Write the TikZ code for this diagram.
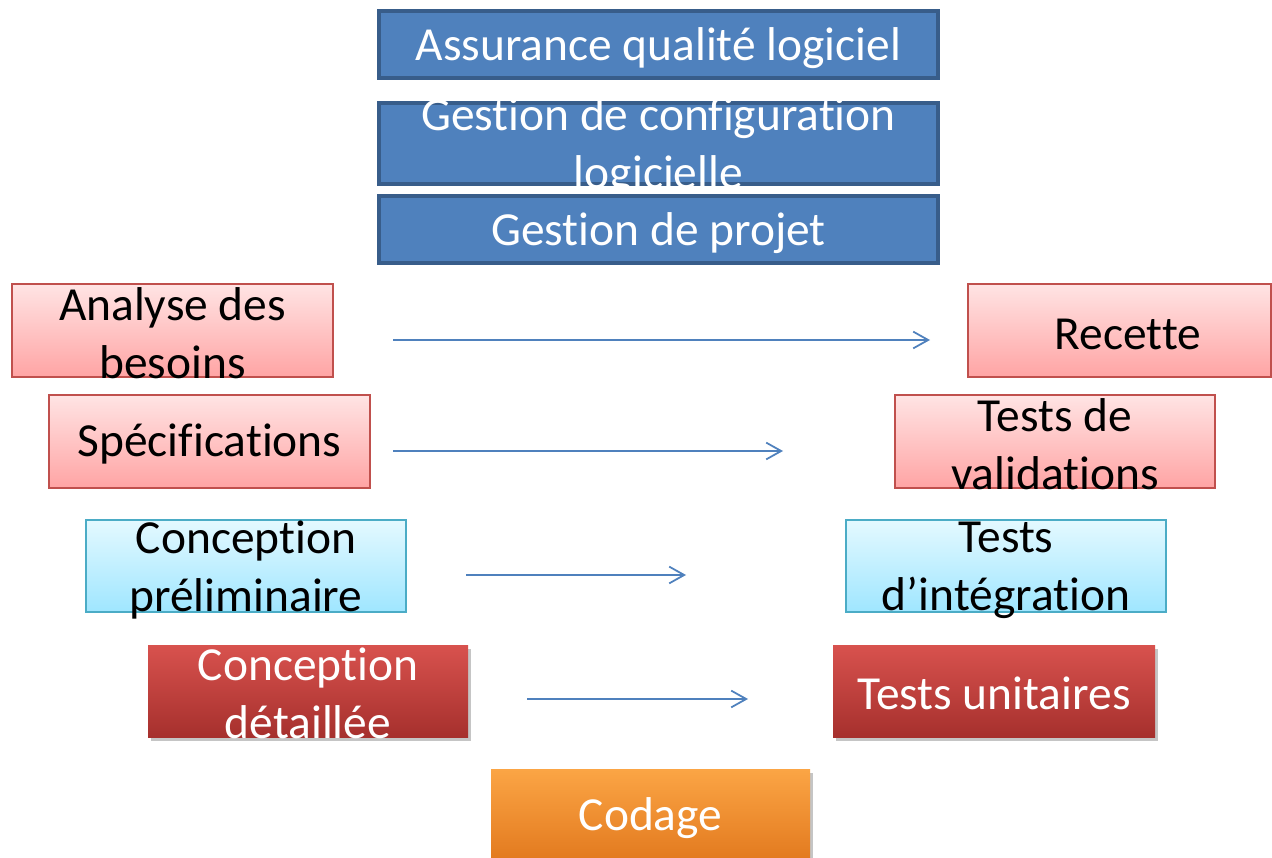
\documentclass[tikz,border=0pt]{standalone}
\usepackage{fontspec}
\setmainfont{Carlito}[Ligatures=NoCommon]
\usetikzlibrary{arrows.meta,shadows}
\definecolor{bluefill}{HTML}{4F81BD}
\definecolor{blueedge}{HTML}{385D8A}
\definecolor{pinktop}{HTML}{FFE4E4}
\definecolor{pinkbot}{HTML}{FFA4A4}
\definecolor{pinkedge}{HTML}{C0504D}
\definecolor{cyantop}{HTML}{E4F9FF}
\definecolor{cyanbot}{HTML}{9FE6FF}
\definecolor{cyanedge}{HTML}{4BACC6}
\definecolor{redtop}{HTML}{D8524E}
\definecolor{redbot}{HTML}{A6302D}
\definecolor{orangetop}{HTML}{FBA545}
\definecolor{orangebot}{HTML}{E2791E}
\definecolor{arrowblue}{HTML}{4F81BD}
\tikzset{
  bluebox/.style={draw=blueedge, fill=bluefill, line width=2.1pt, rectangle, inner sep=0pt},
  pinkbox/.style={draw=pinkedge, top color=pinktop, bottom color=pinkbot, line width=1.1pt, rectangle, inner sep=0pt},
  cyanbox/.style={draw=cyanedge, top color=cyantop, bottom color=cyanbot, line width=0.9pt, rectangle, inner sep=0pt},
  redbox/.style={top color=redtop, bottom color=redbot, rectangle, inner sep=0pt,
     drop shadow={opacity=0.45, shadow xshift=1.5pt, shadow yshift=-2pt}},
  orangebox/.style={top color=orangetop, bottom color=orangebot, rectangle, inner sep=0pt,
     drop shadow={opacity=0.45, shadow xshift=1.5pt, shadow yshift=-2pt}},
  wtxt/.style={text=white, align=center, font=\fontsize{27}{33}\selectfont, inner sep=0pt},
  btxt/.style={text=black, align=center, font=\fontsize{27}{33}\selectfont, inner sep=0pt},
  flow/.style={draw=arrowblue, line width=1.0pt, -{Straight Barb[length=8.5pt,width=9.5pt,line width=1.0pt]}}
}
\begin{document}
\begin{tikzpicture}[x=0.02cm,y=-0.02cm]
\clip (0,0) rectangle (1272,858);
\fill[white] (0,0) rectangle (1272,858);
% top blue bars
\path[bluebox] (379,11) rectangle (938,78) node[midway] (aql) {};
\node[wtxt] (aqlt) at (658.5,48) {Assurance qualité logiciel};
\path[bluebox] (379,103) rectangle (938,184) node[midway] (gcl) {};
\node[wtxt] (gclt) at (658.5,147) {Gestion de configuration\\logicielle};
\path[bluebox] (379,196) rectangle (938,263) node[midway] (gp) {};
\node[wtxt] (gpt) at (658.5,233) {Gestion de projet};
% left side
\path[pinkbox] (12,284) rectangle (333,377) node[midway] (ab) {};
\node[btxt] (abt) at (172.5,333) {Analyse des\\besoins};
\path[pinkbox] (49,395) rectangle (370,488) node[midway] (sp) {};
\node[btxt] (spt) at (209.5,444) {Spécifications};
\path[cyanbox] (86,520) rectangle (406,612) node[midway] (cp) {};
\node[btxt] (cpt) at (246,570) {Conception\\préliminaire};
\path[redbox] (148,645) rectangle (468,737) node[midway] (cd) {};
\node[wtxt] (cdt) at (308,693) {Conception\\détaillée};
% right side
\path[pinkbox] (968,284) rectangle (1271,377) node[midway] (rc) {};
\node[btxt] (rct) at (1128,334) {Recette};
\path[pinkbox] (895,395) rectangle (1215,488) node[midway] (tv) {};
\node[btxt] (tvt) at (1055,444) {Tests de\\validations};
\path[cyanbox] (846,520) rectangle (1166,612) node[midway] (ti) {};
\node[btxt] (tit) at (1006,570) {Tests\\d’intégration};
\path[redbox] (833,645) rectangle (1155,737) node[midway] (tu) {};
\node[wtxt] (tut) at (994,693) {Tests unitaires};
% bottom
\path[orangebox] (491,769) rectangle (810,862) node[midway] (cg) {};
\node[wtxt] (cgt) at (650.5,818) {Codage};
% arrows
\coordinate (a1s) at (393,340); \coordinate (a1e) at (930,340);
\coordinate (a2s) at (393,451); \coordinate (a2e) at (783,451);
\coordinate (a3s) at (466,575); \coordinate (a3e) at (686,575);
\coordinate (a4s) at (527,699); \coordinate (a4e) at (748,699);
\draw[flow] (a1s) -- (a1e);
\draw[flow] (a2s) -- (a2e);
\draw[flow] (a3s) -- (a3e);
\draw[flow] (a4s) -- (a4e);
\end{tikzpicture}
\end{document}
